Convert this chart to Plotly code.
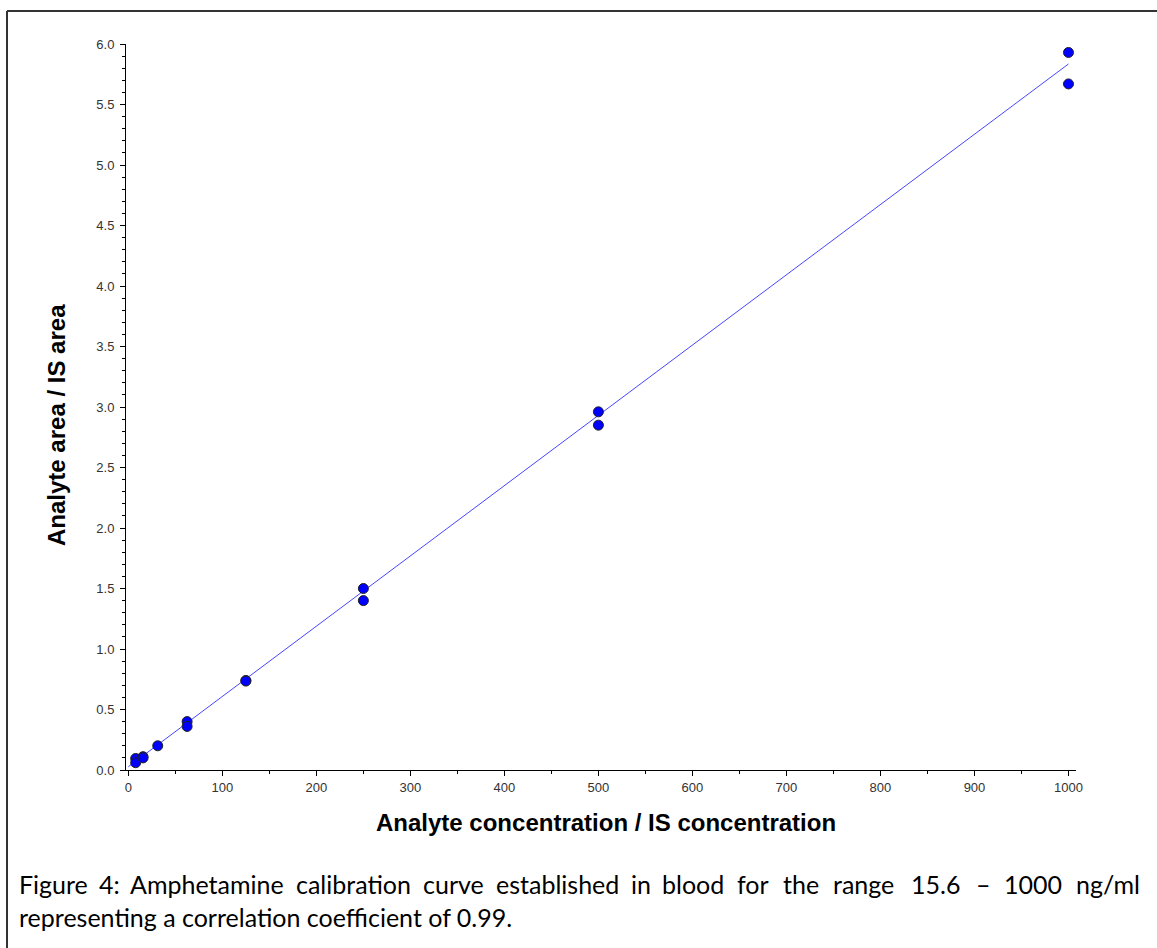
import plotly.graph_objects as go

# Data
conc = [7.8, 7.8, 15.6, 15.6, 31.25, 62.5, 62.5, 125, 125, 250, 250, 500, 500, 1000, 1000]
ratio = [0.095, 0.06, 0.11, 0.10, 0.20, 0.40, 0.36, 0.74, 0.735, 1.50, 1.40, 2.96, 2.85, 5.93, 5.67]
fit_x = [0, 1000]
fit_y = [0.027, 5.835]

x_ticks = [0, 100, 200, 300, 400, 500, 600, 700, 800, 900, 1000]
y_ticks = [0.0, 0.5, 1.0, 1.5, 2.0, 2.5, 3.0, 3.5, 4.0, 4.5, 5.0, 5.5, 6.0]

caption_words = ["Figure", "4:", "Amphetamine", "calibration", "curve", "established", "in",
                 "blood", "for", "the", "range", "15.6", "\u2013", "1000", "ng/ml"]
caption_line2 = "representing a correlation coefficient of 0.99."

W, H = 1157, 948

fig = go.Figure()
fig.add_trace(go.Scatter(x=fit_x, y=fit_y, mode="lines",
                         line=dict(color="rgb(70,70,255)", width=1), showlegend=False))
fig.add_trace(go.Scatter(x=conc, y=ratio, mode="markers",
                         marker=dict(size=10, color="#0000FF",
                                     line=dict(color="#222222", width=1)),
                         showlegend=False))

tickfont = dict(family="Arial, Liberation Sans", size=13, color="#333333")
fig.update_xaxes(range=[-2.5, 1008], tickvals=x_ticks, ticktext=[str(v) for v in x_ticks],
                 showgrid=False, zeroline=False, showline=True, linecolor="black", linewidth=1,
                 ticks="outside", ticklen=5, tickcolor="black", tickfont=tickfont,
                 minor=dict(dtick=50, ticks="outside", ticklen=3, tickcolor="black"))
fig.update_yaxes(range=[0, 6.0], tickvals=y_ticks, ticktext=[f"{v:.1f}" for v in y_ticks],
                 showgrid=False, zeroline=False, showline=True, linecolor="black", linewidth=1,
                 ticks="outside", ticklen=5, tickcolor="black", tickfont=tickfont,
                 ticklabelstandoff=3,
                 minor=dict(dtick=0.1, ticks="outside", ticklen=3, tickcolor="black"))

ml, mr, mt, mb = 126, W - 1076, 44, H - 770
fig.update_layout(width=W, height=H, margin=dict(l=ml, r=mr, t=mt, b=mb),
                  plot_bgcolor="white", paper_bgcolor="white")

def px_x(p):
    return (p - ml) / (W - ml - mr)

def px_y(p):
    return (H - mb - p) / (H - mt - mb)

title_font = dict(family="Arial, Liberation Sans", size=24, color="black")
annotations = [
    dict(text="<b>Analyte concentration / IS concentration</b>", x=px_x(606), y=px_y(822),
         xref="paper", yref="paper", showarrow=False, font=title_font,
         xanchor="center", yanchor="middle"),
    dict(text="<b>Analyte area / IS area</b>", x=px_x(57), y=px_y(425),
         xref="paper", yref="paper", showarrow=False, font=title_font, textangle=-90,
         xanchor="center", yanchor="middle"),
]

# justified first caption line: approximate rendered word widths (px) at this font size
cap_font = dict(family="Lato, Open Sans", size=25, color="black")
word_w = [68, 18, 150, 115, 58, 122, 18, 60, 32, 36, 62, 55, 14, 57, 66]
line_left, line_right = 19, 1141
gap = (line_right - line_left - sum(word_w)) / (len(word_w) - 1)
pos = line_left
for w, ww in zip(caption_words, word_w):
    annotations.append(dict(text=w, x=px_x(pos + ww / 2), y=px_y(884), xref="paper",
                            yref="paper", showarrow=False, font=cap_font, xanchor="center",
                            yanchor="middle", borderpad=0))
    pos += ww + gap
annotations.append(dict(text=caption_line2, x=px_x(19), y=px_y(917), xref="paper", yref="paper",
                        showarrow=False, font=cap_font, xanchor="left", yanchor="middle",
                        borderpad=0, xshift=-1))
fig.update_layout(annotations=annotations)

# outer frame (top and left edges visible)
fig.add_shape(type="line", xref="paper", yref="paper", x0=px_x(7), x1=px_x(W + 5),
              y0=px_y(11), y1=px_y(11), line=dict(color="#333333", width=2))
fig.add_shape(type="line", xref="paper", yref="paper", x0=px_x(7), x1=px_x(7),
              y0=px_y(11), y1=px_y(H + 5), line=dict(color="#333333", width=2))

fig.write_html("out.html")
